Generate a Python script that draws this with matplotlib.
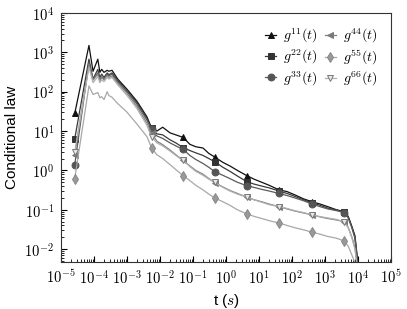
import math
import matplotlib
matplotlib.use("Agg")
import matplotlib.pyplot as plt
from matplotlib.ticker import LogLocator, FuncFormatter, NullFormatter, FixedLocator

plt.rcParams['mathtext.fontset'] = 'cm'
plt.rcParams['font.family'] = ['Liberation Sans', 'DejaVu Sans']

# time grid (s)
t = [2.6e-5, 7e-5, 9.3e-5, 1.3e-4, 1.5e-4, 1.7e-4, 2e-4, 2.5e-4, 2.8e-4, 3.5e-4,
     5.2e-4, 1e-3, 2e-3, 4e-3, 5.5e-3, 8e-3, 1.2e-2, 2e-2, 3e-2, 5e-2,
     8e-2, 0.12, 0.2, 0.3, 0.45, 0.8, 1.3, 2.2, 4.2, 7,
     12, 20, 40, 70, 120, 220, 400, 700, 1200, 2200,
     3800, 5000, 6500, 8000, 9300, 10000]

g11 = [28, 1500, 330, 670, 310, 370, 310, 350, 330, 350,
       210, 115, 57, 23, 12, 10, 12.5, 9, 8, 6.9,
       4.6, 4.0, 3.7, 2.7, 2.2, 1.6, 1.3, 1.0, 0.74, 0.6,
       0.5, 0.42, 0.32, 0.29, 0.24, 0.19, 0.16, 0.14, 0.12, 0.1,
       0.09, 0.068, 0.037, 0.022, 0.007, 0.003]
g22 = [6.4, 670, 210, 370, 230, 280, 230, 300, 270, 300,
       190, 105, 52, 21, 12, 8.5, 8, 6, 5, 3.8,
       3.2, 2.8, 2.4, 2.0, 1.67, 1.2, 0.95, 0.72, 0.52, 0.45,
       0.4, 0.36, 0.3, 0.26, 0.22, 0.18, 0.15, 0.13, 0.11, 0.098,
       0.089, 0.066, 0.036, 0.02, 0.006, 0.003]
g33 = [1.4, 560, 200, 300, 200, 240, 210, 280, 250, 280,
       180, 100, 48, 19, 11, 7.5, 6.5, 5, 4.2, 3.4,
       2.4, 1.9, 1.5, 1.2, 0.93, 0.75, 0.62, 0.5, 0.41, 0.37,
       0.33, 0.3, 0.26, 0.23, 0.2, 0.17, 0.14, 0.12, 0.105, 0.095,
       0.085, 0.062, 0.034, 0.019, 0.006, 0.003]
g44 = [2.5, 500, 200, 280, 190, 230, 200, 260, 230, 250,
       165, 90, 42, 16, 9, 5.5, 4.5, 3.3, 2.5, 1.8,
       1.3, 1.0, 0.8, 0.62, 0.49, 0.38, 0.31, 0.26, 0.21, 0.18,
       0.16, 0.14, 0.12, 0.105, 0.093, 0.083, 0.074, 0.066, 0.06, 0.055,
       0.05, 0.036, 0.02, 0.011, 0.004, 0.002]
g55 = [0.62, 140, 85, 95, 70, 75, 63, 100, 80, 72,
       50, 30, 15, 7.2, 3.8, 2.5, 2.0, 1.4, 1.05, 0.74,
       0.55, 0.42, 0.32, 0.25, 0.2, 0.16, 0.13, 0.1, 0.079, 0.068,
       0.06, 0.053, 0.046, 0.04, 0.035, 0.031, 0.027, 0.024, 0.021, 0.019,
       0.016, 0.012, 0.007, 0.0045, 0.002, 0.001]
g66 = [3.0, 420, 170, 240, 170, 200, 180, 230, 210, 230,
       150, 80, 37, 14, 7.2, 5, 4.2, 3.1, 2.4, 1.8,
       1.25, 0.95, 0.75, 0.6, 0.5, 0.37, 0.3, 0.25, 0.21, 0.18,
       0.155, 0.135, 0.12, 0.108, 0.095, 0.085, 0.074, 0.067, 0.062, 0.057,
       0.049, 0.035, 0.019, 0.01, 0.004, 0.002]

marks = [0, 14, 19, 24, 28, 32, 36, 40]

xdecades = list(range(-5, 6))
ydecades = list(range(-2, 5))

series = [
    (g11, r'$g^{11}(t)$', '^', '#111111', '#111111', '#111111'),
    (g22, r'$g^{22}(t)$', 's', '#3a3a3a', '#333333', '#333333'),
    (g33, r'$g^{33}(t)$', 'o', '#5a5a5a', '#555555', '#555555'),
    (g44, r'$g^{44}(t)$', '<', '#808080', '#7a7a7a', '#7a7a7a'),
    (g55, r'$g^{55}(t)$', 'd', '#a8a8a8', '#999999', '#888888'),
    (g66, r'$g^{66}(t)$', 'v', '#b0b0b0', '#e8e8e8', '#777777'),
]

fig = plt.figure(figsize=(4.07, 3.09), dpi=100)
ax = fig.add_axes([0.150, 0.152, 0.811, 0.806])

for y, lab, m, lc, fc, ec in series:
    ax.plot(t, y, color=lc, lw=0.9, marker=m, markevery=marks, ms=5,
            mfc=fc, mec=ec, mew=0.7, label=lab)

ax.set_xscale('log')
ax.set_yscale('log')
ax.set_xlim(1e-5, 1e5)
ax.set_ylim(0.0047, 1e4)

pow_fmt = FuncFormatter(lambda v, pos: r'$10^{%d}$' % round(math.log10(v)))
ax.xaxis.set_major_locator(FixedLocator([10.0 ** k for k in xdecades]))
ax.yaxis.set_major_locator(FixedLocator([10.0 ** k for k in ydecades]))
for axis in (ax.xaxis, ax.yaxis):
    axis.set_minor_locator(LogLocator(base=10, subs=range(2, 10), numticks=200))
    axis.set_major_formatter(pow_fmt)
    axis.set_minor_formatter(NullFormatter())

ax.tick_params(which='both', direction='in', top=False, right=False)
ax.tick_params(which='major', length=4, pad=5, labelsize=10.5)
ax.tick_params(which='minor', length=2, labelbottom=False, labelleft=False)
for s in ax.spines.values():
    s.set_color('#333333')

ax.set_xlabel(r't ($s$)', fontsize=11)
ax.set_ylabel('Conditional law', fontsize=11)

ax.legend(ncol=2, loc='upper right', frameon=False, fontsize=10,
          handlelength=0.8, columnspacing=0.5, handletextpad=0.5,
          labelspacing=0.2, borderaxespad=0.6)

fig.savefig('out.png', dpi=100)
